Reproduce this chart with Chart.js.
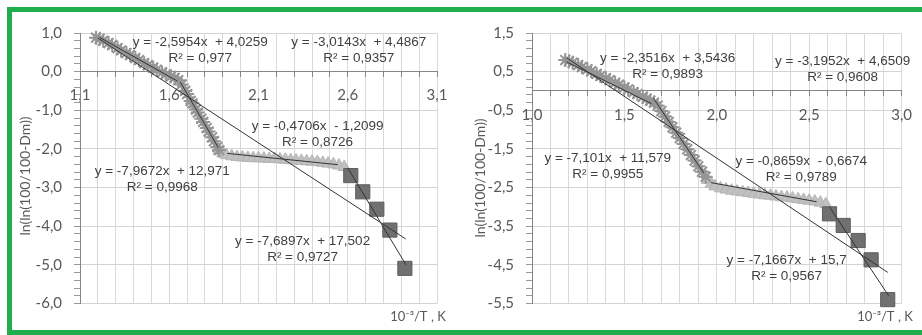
<!DOCTYPE html>
<html>
<head>
<meta charset="utf-8">
<script src="https://cdn.jsdelivr.net/npm/chart.js@4.4.0/dist/chart.umd.min.js"></script>
<style>
html, body { margin: 0; padding: 0; background: #fff; width: 922px; height: 335px; overflow: hidden; }
#frame { position: absolute; left: 7px; top: 7px; width: 940px; height: 318px; border: 5px solid #1fae4b; border-right: none; }
canvas { position: absolute; }
</style>
</head>
<body>
<div id="frame"></div>
<canvas id="leftChart" width="448" height="318" style="left:12px;top:12px"></canvas>
<canvas id="rightChart" width="462" height="318" style="left:460px;top:12px"></canvas>
<script>
// ---- left chart data ----
const leftStarX = [1.19, 1.21, 1.23, 1.26, 1.28, 1.31, 1.33, 1.36, 1.38, 1.41, 1.43, 1.46, 1.48, 1.51, 1.53, 1.56, 1.58, 1.61, 1.63, 1.65,
                   1.67, 1.69, 1.70, 1.72, 1.73, 1.75, 1.76, 1.78, 1.79, 1.81, 1.82, 1.84, 1.85, 1.87, 1.88];
const leftStarY = [0.88, 0.85, 0.80, 0.74, 0.69, 0.61, 0.55, 0.48, 0.43, 0.35, 0.30, 0.22, 0.17, 0.10, 0.05, -0.02, -0.07, -0.12, -0.16, -0.22,
                   -0.33, -0.50, -0.58, -0.76, -0.82, -0.98, -1.06, -1.22, -1.30, -1.46, -1.55, -1.70, -1.80, -1.95, -2.03];
const leftTriX = [1.88, 1.90, 1.92, 1.95, 1.98, 2.01, 2.04, 2.07, 2.10, 2.13, 2.16, 2.19, 2.22, 2.25, 2.28, 2.31, 2.34, 2.37, 2.40, 2.43, 2.46, 2.49, 2.52, 2.55, 2.58];
const leftTriY = [-2.05, -2.12, -2.16, -2.19, -2.21, -2.22, -2.23, -2.24, -2.24, -2.25, -2.26, -2.26, -2.27, -2.28, -2.29, -2.30, -2.31, -2.32, -2.33, -2.34, -2.36, -2.38, -2.40, -2.43, -2.47];
const leftSqX = [2.617, 2.684, 2.763, 2.836, 2.920];
const leftSqY = [-2.69, -3.11, -3.56, -4.10, -5.09];
// trendlines: slope, intercept, R², x range
const leftSlope = [-2.5954, -3.0143, -0.4706, -7.9672, -7.6897];
const leftIntercept = [4.0259, 4.4867, -1.2099, 12.971, 17.502];
const leftR2 = [0.977, 0.9357, 0.8726, 0.9968, 0.9727];
const leftFrom = [1.21, 1.20, 1.925, 1.662, 2.60];
const leftTo = [1.645, 2.925, 2.544, 1.875, 2.926];

// ---- right chart data ----
const rightStarX = [1.18, 1.20, 1.22, 1.25, 1.27, 1.30, 1.32, 1.35, 1.37, 1.40, 1.42, 1.45, 1.47, 1.50, 1.52, 1.55, 1.57, 1.60, 1.62, 1.64, 1.66,
                    1.68, 1.70, 1.72, 1.74, 1.76, 1.78, 1.80, 1.82, 1.84, 1.86, 1.88, 1.90, 1.92, 1.94];
const rightStarY = [0.80, 0.77, 0.73, 0.67, 0.62, 0.56, 0.51, 0.44, 0.39, 0.33, 0.28, 0.21, 0.16, 0.09, 0.04, -0.03, -0.08, -0.15, -0.20, -0.25, -0.30,
                    -0.38, -0.52, -0.66, -0.80, -0.94, -1.08, -1.22, -1.37, -1.51, -1.66, -1.80, -1.95, -2.09, -2.22];
const rightTriX = [1.95, 1.97, 1.99, 2.02, 2.05, 2.08, 2.11, 2.14, 2.17, 2.20, 2.23, 2.26, 2.29, 2.32, 2.35, 2.38, 2.41, 2.44, 2.47, 2.50, 2.53, 2.56, 2.59];
const rightTriY = [-2.30, -2.40, -2.47, -2.52, -2.55, -2.58, -2.60, -2.62, -2.64, -2.66, -2.68, -2.70, -2.71, -2.73, -2.75, -2.76, -2.78, -2.80, -2.82, -2.84, -2.86, -2.89, -2.93];
const rightSqX = [2.610, 2.684, 2.765, 2.835, 2.925];
const rightSqY = [-3.18, -3.48, -3.87, -4.37, -5.40];
const rightSlope = [-2.3516, -3.1952, -7.101, -0.8659, -7.1667];
const rightIntercept = [3.5436, 4.6509, 11.579, -0.6674, 15.7];
const rightR2 = [0.9893, 0.9608, 0.9955, 0.9789, 0.9567];
const rightFrom = [1.187, 1.187, 1.658, 1.968, 2.61];
const rightTo = [1.647, 2.925, 1.930, 2.540, 2.93];

const xTitle = '10⁻³/T , K';
const yTitle = 'ln(ln(100/100-Dm))';

function comma(v) { return String(v).replace('.', ','); }
function eqText(k, b) {
    return 'y = ' + comma(k) + 'x  ' + (b < 0 ? '- ' : '+ ') + comma(Math.abs(b));
}
function pts(xs, ys) { return xs.map((x, i) => ({x: x, y: ys[i]})); }

// draws trendline equations and axis titles
const textPlugin = {
    id: 'texts',
    afterDatasetsDraw(chart, args, opts) {
        const ctx = chart.ctx;
        const xs = chart.scales.x, ys = chart.scales.y;
        ctx.save();
        ctx.fillStyle = '#404040';
        ctx.font = '13.5px "Liberation Sans", Arial, sans-serif';
        ctx.textAlign = 'center';
        ctx.textBaseline = 'middle';
        opts.slope.forEach((k, i) => {
            const px = xs.getPixelForValue(opts.at[i][0]);
            const py = ys.getPixelForValue(opts.at[i][1]);
            ctx.fillText(eqText(k, opts.intercept[i]), px, py);
            ctx.fillText('R² = ' + comma(opts.r2[i]), px, py + 16);
        });
        ctx.fillStyle = '#595959';
        ctx.font = '13px Lato, sans-serif';
        ctx.fillText(xTitle, opts.xTitleAt[0], opts.xTitleAt[1]);
        ctx.font = '14px Lato, sans-serif';
        ctx.translate(opts.yTitleAt[0], opts.yTitleAt[1]);
        ctx.rotate(-Math.PI / 2);
        ctx.fillText(yTitle, 0, 0);
        ctx.restore();
    }
};

function makeChart(id, d) {
    const trendSets = d.slope.map((k, i) => ({
        data: [{x: d.from[i], y: k * d.from[i] + d.intercept[i]}, {x: d.to[i], y: k * d.to[i] + d.intercept[i]}],
        showLine: true, borderColor: '#333', borderWidth: 1, pointRadius: 0
    }));
    const isMajorX = v => Math.abs((v - d.xMin) / 0.5 - Math.round((v - d.xMin) / 0.5)) < 1e-6;
    const isMajorY = v => Math.abs((v - d.yMin) - Math.round(v - d.yMin)) < 1e-6;
    const fmt = v => (Math.abs(v) < 1e-9 ? 0 : v).toFixed(1).replace('.', ',');
    return new Chart(document.getElementById(id), {
        type: 'scatter',
        data: {
            datasets: trendSets.concat([
                { data: pts(d.sqX, d.sqY), clip: false, pointStyle: 'rect', pointRadius: 10, backgroundColor: '#707070', borderColor: '#5e5e5e', borderWidth: 1 },
                { data: pts(d.starX, d.starY), clip: false, pointStyle: 'star', pointRadius: 7, borderColor: '#959595', borderWidth: 2 },
                { data: pts(d.triX, d.triY), clip: false, pointStyle: 'triangle', pointRadius: 7, backgroundColor: '#c0c0c0', borderColor: '#b4b4b4', borderWidth: 1 }
            ])
        },
        options: {
            responsive: false,
            animation: false,
            layout: { padding: { left: 0, right: d.padRight, top: 9, bottom: 26.5 } },
            scales: {
                x: {
                    type: 'linear',
                    position: { y: 0 },
                    min: d.xMin, max: d.xMax,
                    ticks: {
                        stepSize: 0.1, autoSkip: false, maxRotation: 0, padding: 10,
                        color: '#595959', font: { family: 'Lato', size: 15 },
                        callback: v => isMajorX(v) ? fmt(v) : ''
                    },
                    grid: { color: '#d9d9d9', tickLength: 5, tickColor: '#868686' },
                    border: { color: '#868686' }
                },
                y: {
                    type: 'linear',
                    position: 'left',
                    min: d.yMin, max: d.yMax,
                    afterFit: s => { s.width = d.yWidth; },
                    ticks: {
                        stepSize: 0.2, autoSkip: false, padding: 12,
                        color: '#595959', font: { family: 'Lato', size: 15 },
                        callback: v => isMajorY(v) ? fmt(v) : ''
                    },
                    grid: {
                        color: c => isMajorY(c.tick.value) ? '#d4d4d4' : 'rgba(0,0,0,0)',
                        tickColor: '#9a9a9a', tickLength: 6
                    },
                    border: { color: '#868686' }
                }
            },
            plugins: {
                legend: { display: false },
                tooltip: { enabled: false },
                texts: {
                    slope: d.slope, intercept: d.intercept, r2: d.r2, at: d.labelAt,
                    xTitleAt: d.xTitleAt, yTitleAt: d.yTitleAt
                }
            }
        },
        plugins: [textPlugin]
    });
}

makeChart('leftChart', {
    starX: leftStarX, starY: leftStarY, triX: leftTriX, triY: leftTriY, sqX: leftSqX, sqY: leftSqY,
    slope: leftSlope, intercept: leftIntercept, r2: leftR2, from: leftFrom, to: leftTo,
    xMin: 1.1, xMax: 3.1, yMin: -6, yMax: 1, yWidth: 68, padRight: 23,
    labelAt: [[1.774, 0.752], [2.662, 0.752], [2.431, -1.404], [1.561, -2.568], [2.347, -4.377]],
    xTitleAt: [406, 305], yTitleAt: [13, 164]
});

makeChart('rightChart', {
    starX: rightStarX, starY: rightStarY, triX: rightTriX, triY: rightTriY, sqX: rightSqX, sqY: rightSqY,
    slope: rightSlope, intercept: rightIntercept, r2: rightR2, from: rightFrom, to: rightTo,
    xMin: 1.0, xMax: 3.0, yMin: -5.5, yMax: 1.5, yWidth: 72, padRight: 14,
    labelAt: [[1.734, 0.855], [2.681, 0.780], [1.410, -1.747], [2.457, -1.821], [2.378, -4.373]],
    xTitleAt: [425, 305], yTitleAt: [20, 166]
});
</script>
</body>
</html>
